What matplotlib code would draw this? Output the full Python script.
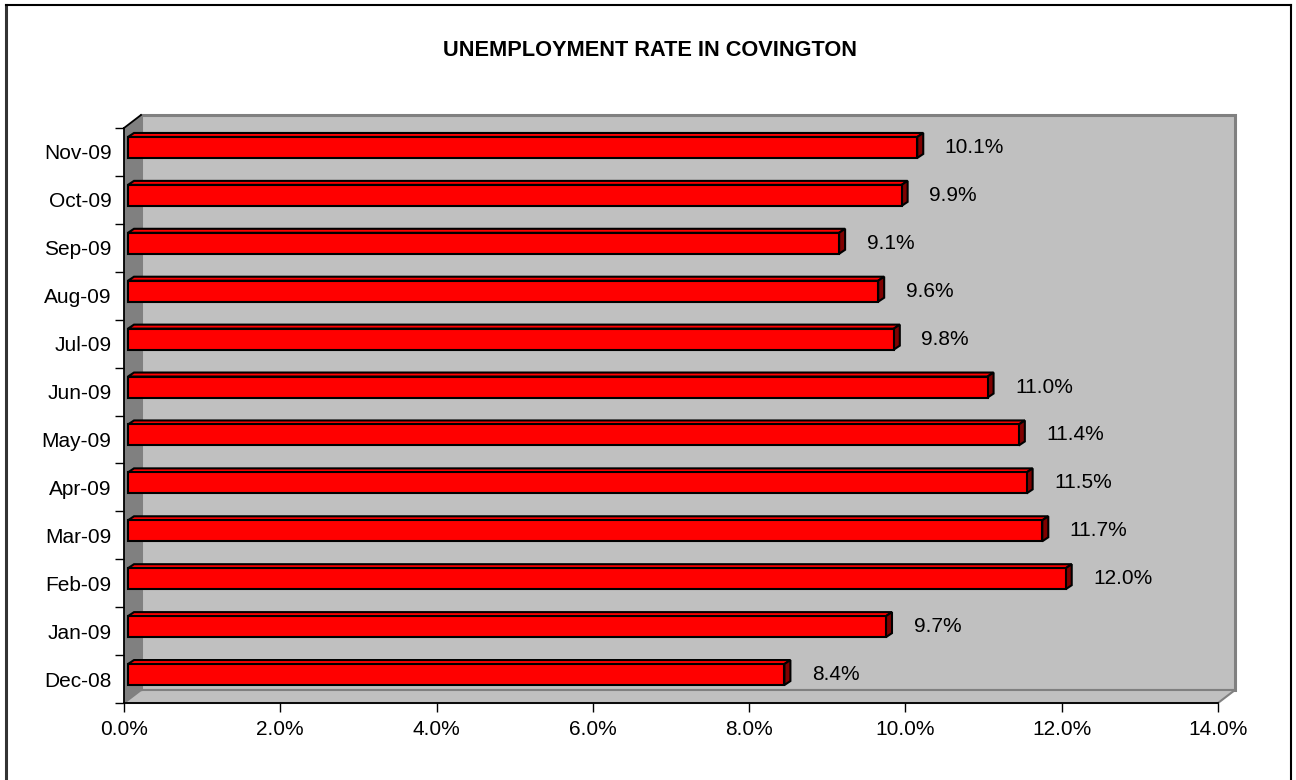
import matplotlib
matplotlib.use("Agg")
import matplotlib.pyplot as plt
from matplotlib.patches import Polygon, Rectangle
from matplotlib.lines import Line2D

plt.rcParams['font.family'] = ['Liberation Sans', 'DejaVu Sans']

months = ["Dec-08", "Jan-09", "Feb-09", "Mar-09", "Apr-09", "May-09",
          "Jun-09", "Jul-09", "Aug-09", "Sep-09", "Oct-09", "Nov-09"]
rates = [8.4, 9.7, 12.0, 11.7, 11.5, 11.4, 11.0, 9.8, 9.6, 9.1, 9.9, 10.1]
xticks = [0, 2, 4, 6, 8, 10, 12, 14]
xtick_labels = ["0.0%", "2.0%", "4.0%", "6.0%", "8.0%", "10.0%", "12.0%", "14.0%"]
title = "UNEMPLOYMENT RATE IN COVINGTON"

W, H = 1296, 780
fig = plt.figure(figsize=(W / 100, H / 100), dpi=100)
fig.patch.set_facecolor('white')

# front plane of the plot area in pixels
L, R, T, B = 124, 1218, 128, 703
ax = fig.add_axes([L / W, 1 - B / H, (R - L) / W, (B - T) / H])
xmax = 14
ax.set_xlim(0, xmax)
ax.set_ylim(-0.5, len(months) - 0.5)
ax.patch.set_visible(False)

sx = xmax / (R - L)          # data units per pixel (x)
sy = len(months) / (B - T)   # data units per pixel (y)
wdx, wdy = 17 * sx, 13 * sy  # wall depth
ytop_ax = len(months) - 0.5

# back wall
ax.add_patch(Rectangle((wdx, -0.5 + wdy), xmax, len(months), fc='#C0C0C0',
                       ec='#808080', lw=2.2, clip_on=False, zorder=0))
# left side wall
ax.add_patch(Polygon([(0, -0.5), (wdx, -0.5 + wdy), (wdx, ytop_ax + wdy), (0, ytop_ax)],
                     closed=True, fc='#808080', ec='none', clip_on=False, zorder=0.5))
# floor
ax.add_patch(Polygon([(0, -0.5), (xmax, -0.5), (xmax + wdx, -0.5 + wdy), (wdx, -0.5 + wdy)],
                     closed=True, fc='#C0C0C0', ec='#808080', lw=1.5, clip_on=False, zorder=0.6))
ax.add_line(Line2D([wdx, wdx], [-0.5 + wdy, ytop_ax + wdy], color='#808080', lw=1.0, zorder=0.7))
ax.add_line(Line2D([0, wdx], [ytop_ax, ytop_ax + wdy], color='black', lw=1.3,
                   clip_on=False, zorder=3))

# bars
ox = 4 * sx
face_shift = 4.5 * sy
hh = 21 * sy
ddx, ddy = 6 * sx, 4 * sy
ypos = [i + face_shift for i in range(len(months))]
bars = ax.barh(ypos, rates, left=ox, height=hh, color='#FF0000',
               edgecolor='black', linewidth=1.5, zorder=4)
for rect, v in zip(bars, rates):
    x0 = rect.get_x()
    x1 = x0 + rect.get_width()
    y0 = rect.get_y()
    y1 = y0 + rect.get_height()
    ax.add_patch(Polygon([(x0, y1), (x1, y1), (x1 + ddx, y1 + ddy), (x0 + ddx, y1 + ddy)],
                         closed=True, fc='#FF0000', ec='black', lw=1.5, zorder=3.5,
                         clip_on=False))
    ax.add_patch(Polygon([(x1, y0), (x1 + ddx, y0 + ddy), (x1 + ddx, y1 + ddy), (x1, y1)],
                         closed=True, fc='#800000', ec='black', lw=1.5, zorder=3.6,
                         clip_on=False))
    ax.annotate(f"{v:.1f}%", xy=(x1 + ddx, (y0 + y1) / 2), xytext=(15.5, 0),
                textcoords='offset points', ha='left', va='center', fontsize=15,
                color='black', zorder=5)

# axes styling
for s in ['top', 'right']:
    ax.spines[s].set_visible(False)
for s in ['left', 'bottom']:
    ax.spines[s].set_color('black')
    ax.spines[s].set_linewidth(1.3)
    ax.spines[s].set_zorder(3)

ax.set_xticks(xticks)
ax.set_xticklabels(xtick_labels, fontsize=15)
ax.tick_params(axis='x', direction='out', length=6.5, width=1, pad=6, color='black')

ax.set_yticks(range(len(months)))
ax.set_yticklabels(months, fontsize=15)
ax.set_yticks([i - 0.5 for i in range(len(months) + 1)], minor=True)
ax.tick_params(axis='y', which='major', length=0, pad=9)
ax.tick_params(axis='y', which='minor', direction='out', length=6.5, width=1, color='black')

# title
fig.text(650 / W, 1 - 51 / H, title, ha='center', va='center', fontsize=15.7,
         fontweight='bold')

# chart border
fig.add_artist(Line2D([6 / W, 6 / W], [0, 1 - 5 / H], color='#333333', lw=2.2))
fig.add_artist(Line2D([6 / W, 1291 / W], [1 - 5 / H, 1 - 5 / H], color='black', lw=1.5))
fig.add_artist(Line2D([1291 / W, 1291 / W], [0, 1 - 5 / H], color='black', lw=1.5))

fig.savefig("out.png", dpi=100)
